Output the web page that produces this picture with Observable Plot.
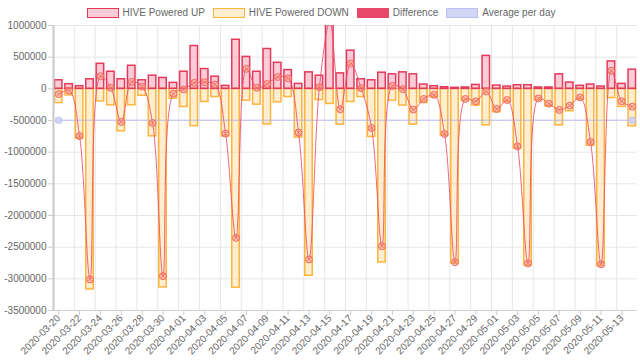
<!DOCTYPE html>
<html><head><meta charset="utf-8">
<script src="https://cdn.jsdelivr.net/npm/d3@7"></script>
<script src="https://cdn.jsdelivr.net/npm/@observablehq/plot@0.6"></script>
<style>
body{margin:0;background:#fff;font-family:"Liberation Sans",Arial,Helvetica,sans-serif;}
#legend{height:18px;display:flex;justify-content:center;align-items:flex-end;gap:8px;font-size:10px;color:#666;padding-left:2px;box-sizing:border-box;}
.it{display:flex;align-items:center;gap:4px;height:11px;}
.sw{width:30px;height:8px;box-sizing:content-box;}
svg{display:block;}
</style></head><body>
<div id="legend"></div>
<div id="chart"></div>
<script>
const dates = ["2020-03-20","2020-03-21","2020-03-22","2020-03-23","2020-03-24","2020-03-25","2020-03-26","2020-03-27","2020-03-28","2020-03-29","2020-03-30","2020-03-31","2020-04-01","2020-04-02","2020-04-03","2020-04-04","2020-04-05","2020-04-06","2020-04-07","2020-04-08","2020-04-09","2020-04-10","2020-04-11","2020-04-12","2020-04-13","2020-04-14","2020-04-15","2020-04-16","2020-04-17","2020-04-18","2020-04-19","2020-04-20","2020-04-21","2020-04-22","2020-04-23","2020-04-24","2020-04-25","2020-04-26","2020-04-27","2020-04-28","2020-04-29","2020-04-30","2020-05-01","2020-05-02","2020-05-03","2020-05-04","2020-05-05","2020-05-06","2020-05-07","2020-05-08","2020-05-09","2020-05-10","2020-05-11","2020-05-12","2020-05-13","2020-05-14"];
const poweredUp = [135000,73000,42000,151000,395000,270000,151000,364000,135000,208000,172000,94000,270000,676000,312000,192000,47000,775000,504000,270000,629000,411000,296000,78000,260000,208000,1300000,244000,603000,151000,135000,255000,229000,260000,229000,68000,42000,26000,16000,21000,62000,520000,52000,36000,57000,57000,21000,21000,229000,99000,47000,68000,36000,432000,78000,302000];
const poweredDown = [-224000,-104000,-785000,-3167000,-198000,-260000,-670000,-260000,-109000,-750000,-3135000,-156000,-286000,-588000,-208000,-130000,-750000,-3140000,-187000,-250000,-562000,-213000,-130000,-770000,-2952000,-177000,-239000,-565000,-208000,-130000,-760000,-2741000,-187000,-265000,-565000,-224000,-135000,-738000,-2757000,-190000,-265000,-576000,-369000,-213000,-943000,-2790000,-182000,-276000,-576000,-354000,-172000,-899000,-2800000,-146000,-286000,-591000];
const difference = [-83000,-26000,-745000,-3010000,198000,16000,-523000,109000,36000,-540000,-2957000,-78000,-10000,94000,104000,68000,-707000,-2353000,317000,16000,78000,187000,166000,-691000,-2694000,26000,1060000,-323000,400000,10000,-618000,-2484000,47000,-5000,-328000,-161000,-94000,-713000,-2737000,-161000,-198000,-42000,-317000,-177000,-907000,-2757000,-151000,-234000,-333000,-265000,-135000,-839000,-2770000,286000,-198000,-281000];
const averagePerDay = [-495000, -495000]; // first and last day
const yTicks = [1000000,500000,0,-500000,-1000000,-1500000,-2000000,-2500000,-3000000,-3500000];

const C = {
  upFill:"rgba(242,110,140,0.35)", upStroke:"#e5395c",
  downFill:"rgba(255,205,120,0.35)", downStroke:"#ffb43c",
  diff:"#ec4a6a", avg:"rgba(170,175,240,0.5)", avgFill:"rgba(205,210,245,0.8)"
};

// legend
const leg = [
  ["HIVE Powered UP", C.upFill, C.upStroke],
  ["HIVE Powered DOWN", C.downFill, C.downStroke],
  ["Difference", "#e8486a", "#e8486a"],
  ["Average per day", "rgba(205,210,245,0.9)", "rgba(185,190,240,0.9)"]
];
document.getElementById("legend").innerHTML = leg.map(([t,f,s]) =>
  `<div class="it"><div class="sw" style="background:${f};border:1.5px solid ${s}"></div><span>${t}</span></div>`).join("");

const data = dates.map((d,i)=>({i, date:d, up:poweredUp[i], down:poweredDown[i], diff:difference[i]}));
const avgData = [{i:0, v:averagePerDay[0]},{i:dates.length-1, v:averagePerDay[1]}];
const half = 0.36;
const evenIdx = dates.map((d,i)=>i).filter(i=>i%2===0);

const chart = Plot.plot({
  width: 640, height: 343,
  marginTop: 7, marginBottom: 51, marginLeft: 53, marginRight: 3,
  style: {fontFamily:"Liberation Sans, Arial, sans-serif", fontSize:"10px", color:"#666", background:"#fff"},
  x: {type:"linear", domain:[-0.5, dates.length-0.5]},
  y: {domain:[-3500000, 1000000]},
  marks: [
    Plot.ruleY(yTicks, {stroke:"#e6e6e6"}),
    Plot.ruleX(evenIdx.map(i=>i-0.5), {stroke:"#e6e6e6"}),
    Plot.ruleY([0], {stroke:"#cfcfcf"}),
    Plot.rectY(data, {x1:d=>d.i-half, x2:d=>d.i+half, y1:0, y2:"down", fill:C.downFill, stroke:C.downStroke, strokeWidth:1.5}),
    Plot.rectY(data, {x1:d=>d.i-half, x2:d=>d.i+half, y1:0, y2:"up", fill:C.upFill, stroke:C.upStroke, strokeWidth:1.5, clip:true}),
    Plot.line(avgData, {x:"i", y:"v", stroke:C.avg, strokeWidth:1.5}),
    Plot.dot(avgData, {x:"i", y:"v", r:3, fill:C.avgFill, stroke:"rgba(190,195,240,0.8)"}),
    Plot.line(data, {x:"i", y:"diff", curve:"catmull-rom", stroke:C.diff, strokeWidth:1, strokeOpacity:0.85, clip:true}),
    Plot.dot(data, {x:"i", y:"diff", r:3.5, fill:"rgba(255,150,110,0.45)", stroke:"#f06a6a", strokeWidth:1, clip:true}),
    Plot.dot(data, {x:"i", y:"diff", r:2.2, symbol:"times", stroke:"#f06a6a", strokeWidth:0.8, clip:true}),
    Plot.ruleX([-0.5], {stroke:"#c8c8c8", strokeWidth:2}),
    Plot.ruleY([-3500000], {stroke:"#d0d0d0"}),
    Plot.axisY(yTicks, {tickSize:5, tickPadding:2, tickFormat:d=>String(d), stroke:"#ccc", fill:"#666", label:null}),
    Plot.axisX(evenIdx, {tickSize:5, tickPadding:1, tickRotate:-45, tickFormat:i=>dates[i], stroke:"#ccc", fill:"#666", label:null})
  ]
});
document.getElementById("chart").appendChild(chart);
</script>
</body></html>
